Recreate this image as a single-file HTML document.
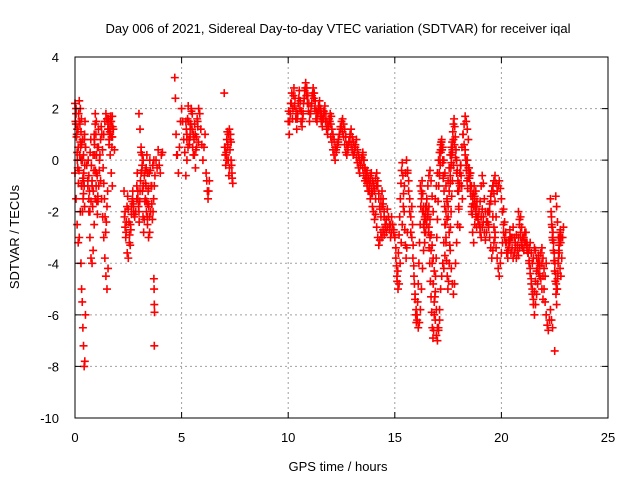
<!DOCTYPE html>
<html><head><meta charset="utf-8"><style>
html,body{margin:0;padding:0;background:#fff;}
svg{display:block;font-family:"Liberation Sans",sans-serif;}
</style></head><body>
<svg id="chart" width="640" height="480" viewBox="0 0 640 480">
<rect x="0" y="0" width="640" height="480" fill="#fff"/>
<g id="grid"></g>
<g id="pts"></g>
<rect x="75" y="57" width="533" height="361" fill="none" stroke="#000" stroke-width="1"/>
<g id="ticks"></g>
<text x="338" y="33" font-size="13" text-anchor="middle">Day 006 of 2021, Sidereal Day-to-day VTEC variation (SDTVAR) for receiver iqal</text>
<text x="338" y="471" font-size="13" text-anchor="middle">GPS time / hours</text>
<text x="19" y="237" font-size="13" text-anchor="middle" transform="rotate(-90 19 237)">SDTVAR / TECUs</text>
</svg>
<script>
const xTicks = [0,5,10,15,20,25];
const yTicks = [-10,-8,-6,-4,-2,0,2,4];
// tracks: start hour, step (hours), SDTVAR values
const trackStarts = [0,0,0.5,0.28,0.6,1.1,1.35,1.5,2.3,2.9,3.0,3.7,3.8,4.68,4.8,5.2,6.15,7.0,
 10.0,13.5,15.0,15.6,16.2,16.9,18.2,18.5,19.4,19.6,20.4,20.8,21.9,22.5,22.3,22.55,3.72,
 10.02,12.0,0.02,0.62,2.32,2.92,5.22,7.02,14.0,16.3,17.3,19.0,20.1,21.2,22.35,
 0.04,0.9,1.55,15.05,15.8,16.55,17.1,17.6,18.3,3.3];
const trackSteps = [0.05,0.05,0.05,0.03,0.05,0.05,0.05,0.05,0.05,0.05,0.05,0.01,0.05,0.03,0.05,0.05,0.03,0.04,
 0.05,0.05,0.05,0.05,0.05,0.05,0.05,0.05,0.05,0.05,0.05,0.05,0.05,0.05,0.03,0.04,0.01,
 0.05,0.05,0.03,0.03,0.03,0.03,0.03,0.025,0.05,0.05,0.05,0.05,0.05,0.05,0.03,
 0.03,0.03,0.02,0.03,0.03,0.03,0.03,0.03,0.03,0.03];
const trackValues = [
 [2.2,1.8,1.2,0.5,1.5,2.0,1.6,0.8,0.2,1.0],
 [-0.5,-1.5,-2.5,-3.2,-3.0,-2.0,-1.0,0.0,-0.8,-1.8],
 [0.5,-0.2,-0.8,-1.5,-2.0,-1.6,-0.8,0.2,1.0,1.8,1.5],
 [-4.0,-5.0,-5.5,-6.5,-7.2,-8.0,-7.8,-6.0],
 [-1.0,-2.0,-3.0,-3.8,-4.0,-3.5,-2.5,-1.5,-0.5,0.5,1.2],
 [0.5,0.0,-0.8,-1.5,-2.2,-3.0,-3.8,-4.5,-5.0,-4.2],
 [1.0,1.5,1.8,1.6,1.2,0.8,0.2,-0.5,-1.0],
 [1.6,1.2,0.6,1.0,1.5,1.7,1.2,0.4],
 [-1.2,-2.0,-2.8,-3.6,-3.8,-3.2,-2.5,-1.8,-1.5,-2.0,-2.2,-2.0,-1.5],
 [-1.0,-1.5,-2.0,-1.2,-0.5,0.2,0.0,-0.6,-1.5,-2.0,-2.5,-3.0,-2.8,-2.0,-1.0,-0.2,0.0],
 [1.8,1.2,0.5,-0.2,-1.0],
 [-4.6,-5.0,-5.6,-5.9],
 [0.0,-0.3,0.4,-0.2,-0.5,0.2,0.3],
 [3.2,2.4,1.0,0.2],
 [0.2,-0.5,0.5,1.5,2.0,1.5,0.8,0.3,-0.6,0.0],
 [1.5,1.0,0.5,0.8,1.2,2.0,1.8,1.0,0.2,-0.3,0.5,1.5,2.0,1.8,1.2,0.6,0.0,0.5,1.0],
 [-0.5,-0.8,-1.2,-1.5,-1.2,-0.8],
 [2.6,0.5,0.2,0.0,0.5,1.0,1.2,0.8,0.0,-0.5,-0.9],
 [1.5,1.0,1.8,2.2,1.6,2.5,2.1,1.6,1.2,1.8,2.4,2.0,1.5,1.3,1.8,2.4,2.8,2.5,2.2,1.9,1.5,
  1.8,2.2,2.6,2.4,2.0,1.6,1.5,1.8,2.0,1.7,1.5,1.3,1.6,1.8,1.5,1.2,1.0,1.3,1.5,1.4,
  1.2,1.0,0.8,0.5,0.4,0.6,0.8,1.0,1.3,1.5,1.6,1.4,1.2,0.9,0.6,0.5,0.7,1.0,1.2,0.9,
  0.7,0.5,0.6,0.8,0.4,0.2,0.0,-0.2,0.1,0.3,0.0,-0.3,-0.5,-0.4,-0.7,-0.9,-0.6,-0.5,-0.8,-1.0,
  -1.2,-1.5,-1.0,-0.8,-1.3,-1.8,-2.2,-1.8,-1.5,-2.0,-2.5,-2.8,-2.6,-2.2,-2.5,-3.0,-2.8,-2.5,-2.8,-3.0],
 [0.2,0.0,-0.3,-0.6,-0.9,-0.7,-1.2,-1.5,-1.3,-1.8,-2.0,-2.3,-2.1,-2.6,-3.0,-3.3,-3.1,-2.8,-3.0,-2.7,-2.9,-2.6],
 [-3.0,-3.8,-4.5,-5.0,-4.8,-4.0,-3.2,-2.5,-1.8,-1.0,-0.5,0.0,-0.5,-1.2,-2.0,-2.8],
 [-0.4,-0.8,-1.5,-2.2,-3.0,-3.8,-4.5,-5.2,-5.8,-6.2,-6.5,-6.3,-5.8,-5.0,-4.2,-3.5,-2.8,-2.0,-1.5,-1.0,-0.6,-0.4,-0.8,-1.4,-2.0],
 [-1.0,-1.5,-2.0,-2.5,-2.2,-1.8,-1.5,-2.0,-2.6,-3.0,-3.5,-4.0,-4.8,-5.5,-6.2,-6.8,-7.0,-6.5,-5.8,-5.0,-4.5,-4.0,-3.2,-2.5,-2.0,-1.5,-0.8,-0.3,0.2,0.5,0.3,-0.2],
 [-1.5,-1.0,-0.5,0.0,0.3,0.6,0.8,0.5,0.0,-0.5,-1.0,-1.6,-2.2,-2.8,-3.5,-4.2,-4.8,-5.2,-4.8,-4.0,-3.2,-2.5,-1.8,-1.0,-0.2,0.5,1.0,1.4,1.7,1.5,1.2,0.8],
 [1.0,0.6,0.2,-0.2,0.0,-0.3,-0.7,-0.5,-1.0,-1.4,-1.8,-1.5,-1.2,-1.8,-2.3,-2.0,-1.6,-1.0,-0.6,-0.9,-1.5,-2.0,-2.4,-2.0,-2.6,-3.0,-3.4,-3.8,-3.5,-3.2,-2.8],
 [-0.5,-1.2,-2.0,-2.8,-3.2,-2.5,-2.0,-1.6,-2.2,-2.5,-2.8,-3.0,-2.6,-2.2],
 [-2.5,-2.0,-1.6,-1.2,-1.0,-0.8,-0.6,-0.9,-1.2,-1.0,-0.8,-1.1,-1.5,-2.0,-2.5,-3.0,-3.2,-3.6,-3.8,-3.4,-3.0],
 [-2.2,-2.6,-3.0,-3.4,-3.8,-4.2,-4.5,-4.0,-3.6,-3.2,-2.8],
 [-3.2,-3.6,-3.0,-2.6,-3.0,-3.4,-3.8,-3.5,-3.0,-2.5,-2.2,-2.6,-3.0,-3.5,-3.2,-2.8,-3.2,-3.6,-4.0,-4.4,-4.8,-5.2,-5.6,-6.0,-5.6,-5.2,-4.8,-4.4,-4.0,-3.6,-3.4,-3.8,-4.2,-4.5,-4.0],
 [-2.0,-2.3,-2.8,-3.2,-3.4,-3.0,-2.8,-3.2,-3.5,-3.6,-3.4,-3.2,-3.6,-4.0,-3.8,-3.4,-3.5,-3.8,-4.2,-4.0,-4.5],
 [-4.0,-4.5,-5.0,-5.5,-6.0,-6.4,-6.6,-6.2,-5.8,-6.2,-6.5],
 [-7.4],
 [-1.5,-2.0,-2.5,-3.0,-2.8,-3.2,-3.6,-4.0,-4.4,-4.8,-5.0,-4.6,-4.0,-3.5,-3.0,-2.8,-3.2],
 [-1.4,-1.8,-2.4,-3.0,-3.6,-4.2,-4.5,-3.8,-3.0,-2.6],
 [-7.2],
 [1.9,1.5,2.2,2.6,2.0,2.8,2.4,1.9,1.6,2.2,2.7,2.3,1.9,1.6,2.2,2.7,3.0,2.8,2.5,2.2,1.8,
  2.1,2.5,2.8,2.6,2.3,1.9,1.8,2.1,2.3,2.0,1.8,1.6,1.9,2.1,1.8,1.5,1.3,1.6,1.8,1.7],
 [0.9,0.7,0.4,0.2,0.0,0.3,0.5,0.7,1.0,1.2,1.3,1.1,0.9,0.6,0.3,0.2,0.4,0.7,0.9,0.6,
  0.4,0.2,0.3,0.5,0.1,-0.1,-0.3,-0.5,-0.2,0.0,-0.3,-0.6,-0.8,-0.7,-1.0,-1.2,-0.9,-0.8,-1.1,-1.3],
 [1.5,2.0,1.0,0.0,1.2,1.8,2.3,1.4,0.5,0.0,-1.0,-2.0,-1.5,-0.5,0.8,1.5],
 [0.0,-0.6,-1.2,0.3,0.8,-0.2,-1.0,-1.8,-1.2,-0.4,0.6,1.4,1.0,0.2,-0.6,-1.4],
 [-2.2,-2.6,-3.0,-2.4,-1.8,-1.4,-1.9,-2.4,-2.9,-3.3,-2.7,-2.1,-1.6,-1.2,-1.7,-2.1],
 [-0.5,-1.2,-1.8,-2.4,-1.6,-0.8,0.3,-0.4,-1.2,-2.2,-2.8,-2.3,-1.6,-0.9,-0.3,0.2,-0.5,-1.2,-1.8,-2.2],
 [1.2,0.8,1.6,2.1,1.5,0.6,0.9,1.4,1.9,1.2,0.5,0.2,0.8,1.4,1.0,0.4,0.9,1.6,1.3,0.7],
 [0.5,0.2,-0.2,0.3,0.8,1.1,0.6,0.0,-0.6,-0.3,0.4,1.0,0.7,-0.2,-0.7],
 [-0.9,-1.1,-0.7,-0.5,-1.0,-1.5,-1.9,-1.5,-1.2,-1.7,-2.2,-2.5,-2.3,-1.9,-2.2,-2.7,-2.5,-2.2,-2.5,-2.7],
 [-1.3,-1.8,-2.3,-2.8,-2.5,-2.1,-1.8,-2.3,-2.9,-3.3,-3.8,-4.3,-5.1,-5.8,-6.5,-6.6,-6.2],
 [-4.2,-3.7,-3.0,-2.3,-1.8,-1.2,-0.6,-0.1,0.4,0.8,0.6,0.1,-0.5,-1.2,-1.9,-2.6],
 [-2.6,-2.2,-1.9,-2.4,-2.8,-3.1,-2.8,-2.4,-2.0,-1.7,-1.4,-1.2,-1.0,-1.3,-1.6,-2.2],
 [-1.9,-2.4,-2.8,-3.2,-3.5,-3.1,-2.7,-3.0,-3.4,-3.8,-3.6,-3.2,-2.9,-3.3,-3.7,-3.4,-3.0,-3.3],
 [-3.3,-3.6,-3.9,-4.2,-4.6,-5.0,-5.4,-5.1,-4.7,-4.3,-4.0,-3.7,-4.1,-4.6,-5.0,-5.4],
 [-2.2,-2.6,-3.1,-3.5,-3.9,-4.3,-4.7,-5.2,-5.6,-5.0,-4.4,-3.8,-3.3,-3.0,-2.7,-3.0],
 [1.4,0.9,0.3,-0.3,-0.9,-0.4,0.2,0.7,1.1,0.6,0.0,-0.7,-1.3,-1.0,-0.2,0.5],
 [0.8,0.2,-0.4,-1.0,-1.6,-2.1,-1.6,-1.0,-0.4,0.2,0.8,1.3,1.0,0.4,-0.3,-0.9,-1.5,-2.2,-2.8,-2.4,-1.8,-1.2],
 [1.4,1.6,1.2,0.8,1.1,1.5,1.7,1.3,0.9,0.5,0.9,1.3],
 [-3.4,-4.1,-4.7,-4.3,-3.6,-2.9,-2.2,-1.5,-0.9,-0.4,-0.1,-0.6,-1.3,-2.0,-2.7,-3.3,-3.8,-3.4,-2.8],
 [-1.8,-2.5,-3.3,-4.1,-4.8,-5.4,-6.0,-6.3,-6.0,-5.5,-4.8,-4.0,-3.2,-2.5,-1.8,-1.2,-0.8,-1.3,-2.0,-2.6,-3.2,-2.8,-2.3,-1.8],
 [-2.2,-2.8,-3.4,-4.0,-4.7,-5.3,-5.9,-6.5,-6.9,-6.6,-6.0,-5.3,-4.5,-3.8,-3.0,-2.3,-1.6,-1.0,-0.5,0.0,0.4,0.7,0.4,-0.1,-0.7],
 [-0.6,-0.2,0.3,0.7,0.4,0.0,-0.6,-1.2,-1.8,-2.5,-3.2,-3.9,-4.5,-5.0,-4.7,-4.0,-3.3,-2.6,-2.0,-1.4,-0.8],
 [-0.9,-0.3,0.2,0.7,1.1,1.4,1.6,1.3,0.9,0.4,0.0,-0.4,-0.8,-1.2,-0.9,-0.5,-0.2,-0.6,-1.0,-1.5],
 [0.4,0.0,-0.4,-0.8,-1.1,-0.7,-0.3,-0.6,-1.0,-1.4,-1.8,-2.1,-1.7,-1.3,-1.0,-1.4,-1.8,-2.2,-2.6,-2.2],
 [-0.4,-1.0,-1.6,-2.2,-1.7,-1.1,-0.5,0.0,-0.4,-1.0,-1.7,-2.3,-2.0,-1.5,-1.0,-0.6]
];
const NS='http://www.w3.org/2000/svg';
const X0=75,X1=608,Y0=418,Y1=57,XMIN=0,XMAX=25,YMIN=-10,YMAX=4;
function sx(h){return X0+(h-XMIN)/(XMAX-XMIN)*(X1-X0);}
function sy(v){return Y0-(v-YMIN)/(YMAX-YMIN)*(Y0-Y1);}
const grid=document.getElementById('grid'),ticks=document.getElementById('ticks'),pts=document.getElementById('pts');
function mk(tag,attrs,parent){const e=document.createElementNS(NS,tag);for(const k in attrs)e.setAttribute(k,attrs[k]);parent.appendChild(e);return e;}
xTicks.forEach(t=>{
  const x=sx(t);
  if(t>XMIN&&t<XMAX){
    const g=mk('line',{x1:x,x2:x,y1:Y1,y2:Y0,stroke:'#a0a0a0','stroke-dasharray':'2,3'},grid);
    
    
  }
  const a=mk('path',{d:`M${x} ${Y0}v-6M${x} ${Y1}v6`,stroke:'#000'},ticks);
  
  
  const l=mk('text',{x:x,y:Y0+24,'font-size':13,'text-anchor':'middle'},ticks);
  l.textContent=t;
  
  
});
yTicks.forEach(t=>{
  const y=sy(t);
  if(t>YMIN&&t<YMAX){
    const g=mk('line',{x1:X0,x2:X1,y1:y,y2:y,stroke:'#a0a0a0','stroke-dasharray':'2,3'},grid);
    
    
  }
  const a=mk('path',{d:`M${X0} ${y}h6M${X1} ${y}h-6`,stroke:'#000'},ticks);
  
  
  const l=mk('text',{x:X0-16,y:y+5,'font-size':13,'text-anchor':'end'},ticks);
  l.textContent=t;
  
  
});
trackValues.forEach((vals,k)=>{
  vals.forEach((v,i)=>{
    const x=sx(trackStarts[k]+i*trackSteps[k]),y=sy(v);
    const p=mk('path',{d:`M${x-4} ${y}h8M${x} ${y-4}v8`,stroke:'#ff0000','stroke-width':1.6},pts);
    
    
  });
});
</script>
</body></html>
